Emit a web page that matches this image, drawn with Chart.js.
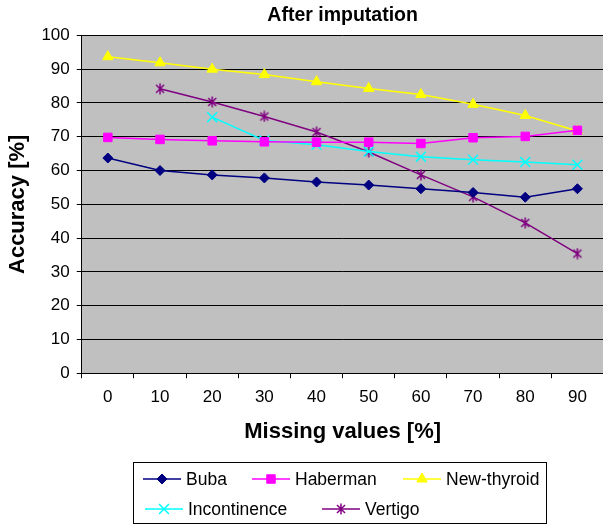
<!DOCTYPE html>
<html lang="en">
  <head>
    <meta charset="UTF-8" />
    <title>After imputation</title>
    <script src="https://cdn.jsdelivr.net/npm/chart.js@4"></script>
    <style>
      html,
      body {
        margin: 0;
        padding: 0;
        background: #fff;
        overflow: hidden;
      }
      canvas {
        display: block;
      }
    </style>
  </head>
  <body>
    <canvas id="myChart" width="612" height="526"></canvas>

    <script>
      // missing values (%) on the x axis, accuracy (%) per dataset
      const missing = ["0", "10", "20", "30", "40", "50", "60", "70", "80", "90"];
      const buba = [63.7, 60.0, 58.7, 57.8, 56.6, 55.7, 54.6, 53.5, 52.1, 54.6];
      const haberman = [69.8, 69.2, 68.8, 68.5, 68.4, 68.4, 68.0, 69.7, 70.1, 71.9];
      const newThyroid = [93.7, 91.9, 90.0, 88.4, 86.3, 84.3, 82.5, 79.6, 76.3, 71.7];
      const incontinence = [null, null, 75.8, 68.9, 67.6, 65.6, 64.1, 63.2, 62.5, 61.7];
      const vertigo = [null, 84.2, 80.3, 76.0, 71.4, 65.5, 58.7, 52.2, 44.5, 35.4];
      const yTicks = [0, 10, 20, 30, 40, 50, 60, 70, 80, 90, 100];

      const FONT = "'Liberation Sans', Arial, Helvetica, sans-serif";

      // asterisk marker (x plus vertical bar)
      function makeAsterisk(color) {
        let c = document.createElement("canvas");
        c.width = 12;
        c.height = 12;
        let g = c.getContext("2d");
        g.strokeStyle = color;
        g.lineWidth = 1.5;
        g.beginPath();
        g.moveTo(2, 2);
        g.lineTo(10, 10);
        g.moveTo(10, 2);
        g.lineTo(2, 10);
        g.moveTo(6, 0.5);
        g.lineTo(6, 11.5);
        g.stroke();
        return c;
      }

      function series(label, data, color, style, radius, extra) {
        return Object.assign(
          {
            label: label,
            data: data,
            borderColor: color,
            backgroundColor: color,
            borderWidth: 1.5,
            pointStyle: style,
            pointRadius: radius,
            pointBackgroundColor: color,
            pointBorderColor: color,
            pointBorderWidth: 1,
            tension: 0,
          },
          extra || {}
        );
      }

      // grey plotting area
      const plotBackground = {
        id: "plotBackground",
        beforeDraw(chart) {
          const { ctx, chartArea } = chart;
          ctx.save();
          ctx.fillStyle = "#c0c0c0";
          ctx.fillRect(chartArea.left, chartArea.top, chartArea.right - chartArea.left, chartArea.bottom - chartArea.top);
          ctx.restore();
        },
      };

      // boxed legend with line + marker samples, two rows
      const boxLegend = {
        id: "boxLegend",
        afterDraw(chart) {
          const ctx = chart.ctx;
          const rows = [
            { y: 479, items: [[0, 143], [1, 252], [2, 403]] },
            { y: 509, items: [[3, 145], [4, 322]] },
          ];
          ctx.save();
          ctx.strokeStyle = "#000";
          ctx.lineWidth = 1;
          ctx.strokeRect(133.5, 462.5, 413, 61);
          ctx.font = "17.5px " + FONT;
          ctx.textBaseline = "middle";
          ctx.textAlign = "left";
          rows.forEach((row) => {
            row.items.forEach(([i, x]) => {
              const ds = chart.data.datasets[i];
              ctx.strokeStyle = ds.borderColor;
              ctx.lineWidth = 1.5;
              ctx.beginPath();
              ctx.moveTo(x, row.y);
              ctx.lineTo(x + 38, row.y);
              ctx.stroke();
              ctx.fillStyle = ds.pointBackgroundColor;
              ctx.strokeStyle = ds.pointBorderColor;
              ctx.lineWidth = ds.pointBorderWidth;
              Chart.helpers.drawPoint(
                ctx,
                { pointStyle: ds.pointStyle, radius: ds.pointRadius, borderWidth: ds.pointBorderWidth, rotation: 0 },
                x + 19,
                row.y
              );
              ctx.fillStyle = "#000";
              ctx.fillText(ds.label, x + 43, row.y + 1);
            });
          });
          ctx.restore();
        },
      };

      let ctx = document.getElementById("myChart");

      let chart = new Chart(ctx, {
        type: "line",
        data: {
          labels: missing,
          datasets: [
            series("Buba", buba, "#000080", "rectRot", 5),
            series("Haberman", haberman, "#ff00ff", "rect", 6),
            series("New-thyroid", newThyroid, "#ffff00", "triangle", 6),
            series("Incontinence", incontinence, "#00ffff", "crossRot", 7, { pointBorderWidth: 1.5 }),
            series("Vertigo", vertigo, "#800080", makeAsterisk("#800080"), 6),
          ],
        },
        options: {
          responsive: false,
          animation: false,
          devicePixelRatio: 1,
          layout: {
            padding: { left: 0, right: 4, top: 0, bottom: 81 },
          },
          plugins: {
            legend: { display: false },
            tooltip: { enabled: false },
            title: {
              display: true,
              text: "After imputation",
              fullSize: false,
              color: "#000",
              font: { family: FONT, size: 19.5, weight: "bold" },
              padding: { top: 4, bottom: 8 },
            },
          },
          scales: {
            x: {
              type: "category",
              offset: true,
              grid: {
                offset: true,
                drawOnChartArea: false,
                drawTicks: true,
                tickLength: 5,
                tickColor: "#000",
                tickWidth: 1,
              },
              border: { color: "#000", width: 1 },
              ticks: {
                color: "#000",
                padding: 9,
                maxRotation: 0,
                font: { family: FONT, size: 17 },
              },
              title: {
                display: true,
                text: "Missing values [%]",
                color: "#000",
                font: { family: FONT, size: 22, weight: "bold" },
                padding: { top: 2, bottom: 0 },
              },
            },
            y: {
              min: 0,
              max: 100,
              afterBuildTicks(axis) {
                axis.ticks = yTicks.map((v) => ({ value: v }));
              },
              grid: {
                color: "#000",
                lineWidth: 1,
                drawTicks: true,
                tickLength: 5,
                tickColor: "#000",
              },
              border: { color: "#000", width: 1 },
              ticks: {
                color: "#000",
                padding: 7,
                font: { family: FONT, size: 17 },
              },
              title: {
                display: true,
                text: "Accuracy [%]",
                color: "#000",
                font: { family: FONT, size: 22, weight: "bold" },
                padding: { top: 5, bottom: 3 },
              },
            },
          },
        },
        plugins: [plotBackground, boxLegend],
      });
    </script>
  </body>
</html>
